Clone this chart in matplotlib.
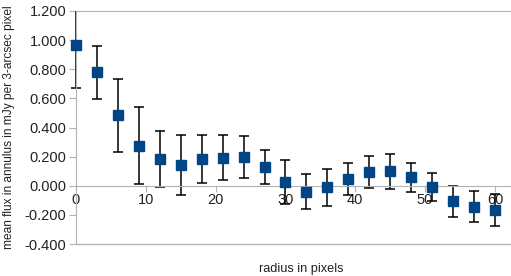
import matplotlib
matplotlib.use('Agg')
import matplotlib.pyplot as plt
from matplotlib.transforms import Bbox, TransformedBbox

plt.rcParams['font.family'] = ['Liberation Sans', 'DejaVu Sans']

radius = [0, 3, 6, 9, 12, 15, 18, 21, 24, 27, 30, 33, 36, 39, 42, 45, 48, 51, 54, 57, 60]
flux = [0.966, 0.779, 0.483, 0.276, 0.186, 0.143, 0.184, 0.193, 0.198, 0.131, 0.025,
        -0.041, -0.012, 0.046, 0.094, 0.099, 0.057, -0.007, -0.108, -0.143, -0.166]
err = [0.297, 0.183, 0.248, 0.262, 0.193, 0.205, 0.165, 0.155, 0.142, 0.117, 0.15,
       0.12, 0.126, 0.108, 0.11, 0.121, 0.099, 0.097, 0.104, 0.105, 0.112]

grey = '#b3b3b3'

fig = plt.figure(figsize=(5.11, 2.76), dpi=100)
ax = fig.add_axes([76/511, 1 - 244/276, 435/511, 233/276])

ax.set_xlim(0, 62.3)
ax.set_ylim(-0.4, 1.2)

eb = ax.errorbar(radius, flux, yerr=err, fmt='none', ecolor='black', elinewidth=1.1,
                 capsize=3.5, capthick=1.1)
# clip only top/bottom so the bars at x=0 are not cut in half
clip = TransformedBbox(Bbox([[-0.2, 0], [1.2, 1]]), ax.transAxes)
for art in eb.lines[1] + eb.lines[2]:
    art.set_clip_box(clip)
ax.plot(radius, flux, 's', color='#004586', markersize=7.5, clip_on=False, zorder=3)

ax.set_yticks([-0.4, -0.2, 0, 0.2, 0.4, 0.6, 0.8, 1.0, 1.2])
ax.set_yticklabels([f'{v:.3f}' for v in ax.get_yticks()])
ax.set_xticks([0, 10, 20, 30, 40, 50, 60])

ax.spines['bottom'].set_position(('data', 0))
ax.spines['right'].set_visible(False)
for s in ['left', 'bottom', 'top']:
    ax.spines[s].set_color(grey)
ax.axhline(-0.4, color=grey, lw=1.0, clip_on=False)

ax.tick_params(axis='y', colors=grey, labelcolor='#222222', labelsize=10.5, length=5, direction='out', pad=2)
ax.tick_params(axis='x', colors=grey, labelcolor='#222222', labelsize=10.5, length=4, direction='out', pad=1)

ax.set_ylabel('mean flux in annulus in mJy per 3-arcsec pixel', fontsize=8.6, color='#222222')
ax.yaxis.set_label_coords(-0.14, 0.5)
fig.text(301/511, 1 - 269/276, 'radius in pixels', ha='center', va='center', fontsize=9.2, color='#222222')

fig.savefig('out.png', dpi=100)
